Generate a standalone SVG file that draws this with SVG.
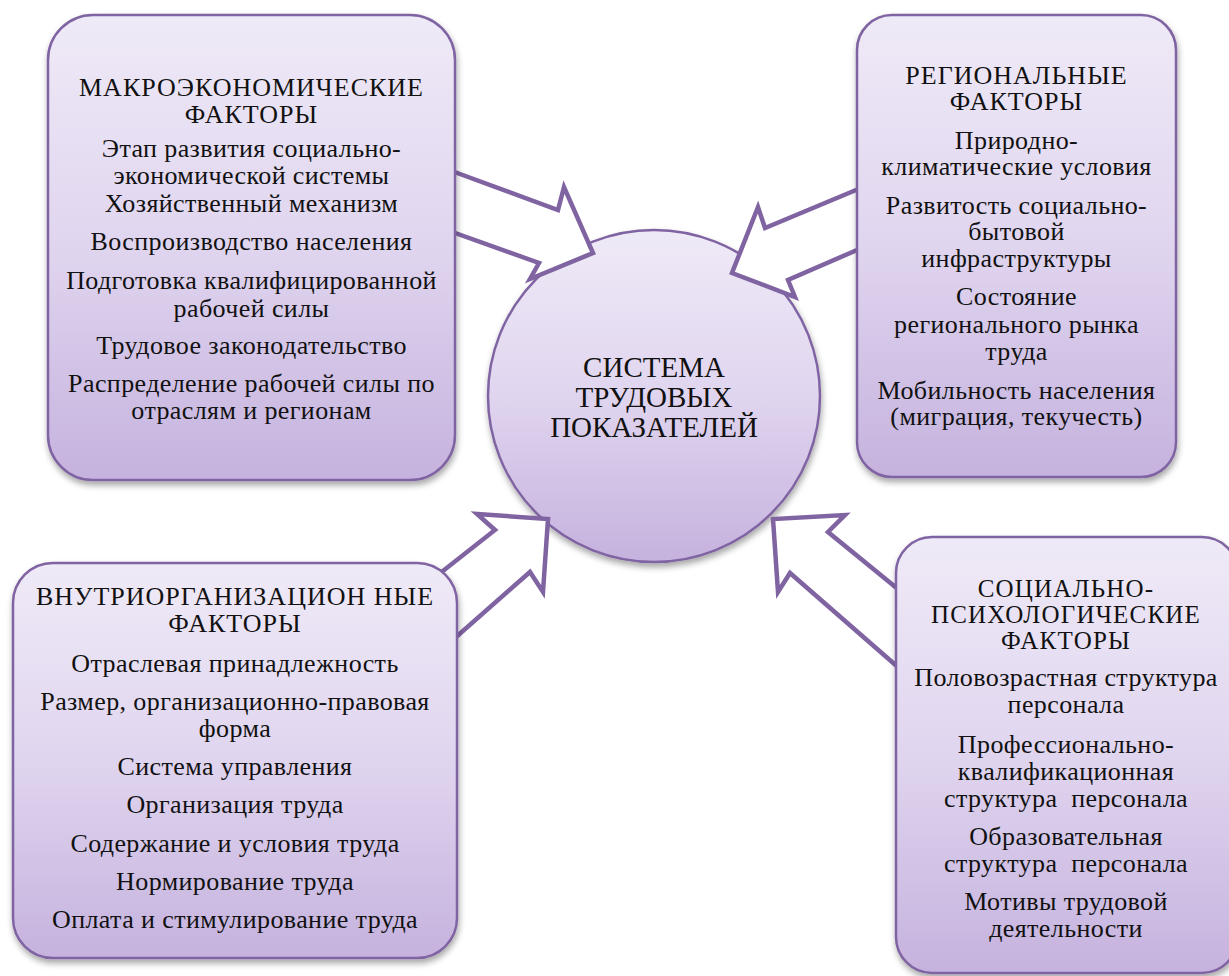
<svg xmlns="http://www.w3.org/2000/svg" width="1229" height="976" viewBox="0 0 1229 976">
  <defs>
    <linearGradient id="fillGrad" x1="0" y1="0" x2="0" y2="1">
      <stop offset="0" stop-color="#efeaf7"/>
      <stop offset="0.5" stop-color="#e0d5ef"/>
      <stop offset="1" stop-color="#c5b2de"/>
    </linearGradient>
    <filter id="shadow" x="-10%" y="-10%" width="120%" height="125%">
      <feDropShadow dx="1" dy="4" stdDeviation="3" flood-color="#000000" flood-opacity="0.35"/>
    </filter>
  </defs>
  <style>
    .box { fill: url(#fillGrad); stroke: #8064a2; stroke-width: 2.5; filter: url(#shadow); }
    .arrow { fill: #ffffff; stroke: #8064a2; stroke-width: 4.5; stroke-linejoin: miter; }
    .t { font-family: "Liberation Serif", "Times New Roman", serif; fill: #111111; text-anchor: middle; }
    .h { font-size: 26px; letter-spacing: 1px; }
    .hs { font-size: 25px; letter-spacing: 1.2px; }
    .b { font-size: 26px; letter-spacing: 0.4px; }
    .c { font-size: 29px; }
  </style>
  <rect width="1229" height="976" fill="#ffffff"/>

  <g id="center">
    <circle cx="654" cy="396" r="166" class="box"/>
    <text class="t c" x="654" y="377">СИСТЕМА</text>
    <text class="t c" x="654" y="407">ТРУДОВЫХ</text>
    <text class="t c" x="654" y="437">ПОКАЗАТЕЛЕЙ</text>
  </g>

  <g id="connectors">
    <polygon class="arrow" points="430,163 558,210 564,187 593,253 530,279 539,263 430,224"/>
    <polygon class="arrow" points="880,180 765,228 758,207 732,273 795,297 788,280 880,240"/>
    <polygon class="arrow" points="420,589 495,530 477,514 548,519 543,592 530,572 430,660"/>
    <polygon class="arrow" points="915,603 828,532 845,515 773,519 778,592 790,573 915,682"/>
  </g>

  <g id="macro">
    <rect class="box" x="48" y="15" width="407" height="465" rx="45" ry="45"/>
    <text class="t h" x="251.5" y="96">МАКРОЭКОНОМИЧЕСКИЕ</text>
    <text class="t h" x="251.5" y="123">ФАКТОРЫ</text>
    <text class="t b" x="251.5" y="157">Этап развития социально-</text>
    <text class="t b" x="251.5" y="183.5">экономической системы</text>
    <text class="t b" x="251.5" y="212">Хозяйственный механизм</text>
    <text class="t b" x="251.5" y="250">Воспроизводство населения</text>
    <text class="t b" x="251.5" y="288.5">Подготовка квалифицированной</text>
    <text class="t b" x="251.5" y="316.5">рабочей силы</text>
    <text class="t b" x="251.5" y="353.5">Трудовое законодательство</text>
    <text class="t b" x="251.5" y="391.5">Распределение рабочей силы по</text>
    <text class="t b" x="251.5" y="418.5">отраслям и регионам</text>
  </g>

  <g id="regional">
    <rect class="box" x="857" y="15" width="319" height="462" rx="35" ry="35"/>
    <text class="t h" x="1016.5" y="83.5">РЕГИОНАЛЬНЫЕ</text>
    <text class="t h" x="1016.5" y="110">ФАКТОРЫ</text>
    <text class="t b" x="1016.5" y="148.5">Природно-</text>
    <text class="t b" x="1016.5" y="175">климатические условия</text>
    <text class="t b" x="1016.5" y="213.5">Развитость социально-</text>
    <text class="t b" x="1016.5" y="240">бытовой</text>
    <text class="t b" x="1016.5" y="267">инфраструктуры</text>
    <text class="t b" x="1016.5" y="305">Состояние</text>
    <text class="t b" x="1016.5" y="333">регионального рынка</text>
    <text class="t b" x="1016.5" y="360">труда</text>
    <text class="t b" x="1016.5" y="398.5">Мобильность населения</text>
    <text class="t b" x="1016.5" y="425">(миграция, текучесть)</text>
  </g>

  <g id="internal">
    <rect class="box" x="13" y="563" width="444" height="395" rx="40" ry="40"/>
    <text class="t h" x="235" y="605">ВНУТРИОРГАНИЗАЦИОН НЫЕ</text>
    <text class="t h" x="235" y="632">ФАКТОРЫ</text>
    <text class="t b" x="235" y="672">Отраслевая принадлежность</text>
    <text class="t b" x="235" y="710">Размер, организационно-правовая</text>
    <text class="t b" x="235" y="736.5">форма</text>
    <text class="t b" x="235" y="775">Система управления</text>
    <text class="t b" x="235" y="813">Организация труда</text>
    <text class="t b" x="235" y="851.5">Содержание и условия труда</text>
    <text class="t b" x="235" y="890">Нормирование труда</text>
    <text class="t b" x="235" y="928">Оплата и стимулирование труда</text>
  </g>

  <g id="social">
    <rect class="box" x="896" y="537" width="342" height="436" rx="36" ry="36"/>
    <text class="t hs" x="1066" y="597">СОЦИАЛЬНО-</text>
    <text class="t hs" x="1066" y="623">ПСИХОЛОГИЧЕСКИЕ</text>
    <text class="t hs" x="1066" y="649">ФАКТОРЫ</text>
    <text class="t b" x="1066" y="686">Половозрастная структура</text>
    <text class="t b" x="1066" y="713">персонала</text>
    <text class="t b" x="1066" y="753">Профессионально-</text>
    <text class="t b" x="1066" y="780">квалификационная</text>
    <text class="t b" x="1066" y="807" xml:space="preserve">структура  персонала</text>
    <text class="t b" x="1066" y="845">Образовательная</text>
    <text class="t b" x="1066" y="872" xml:space="preserve">структура  персонала</text>
    <text class="t b" x="1066" y="910">Мотивы трудовой</text>
    <text class="t b" x="1066" y="937">деятельности</text>
  </g>
</svg>
